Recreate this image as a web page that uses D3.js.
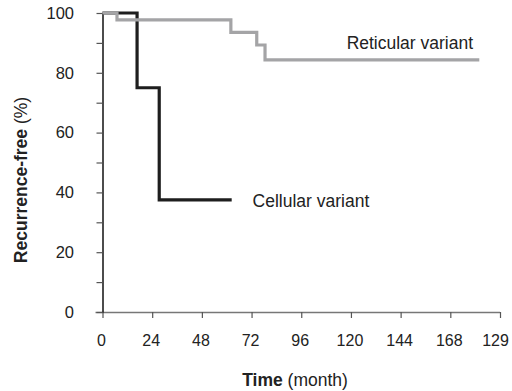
<!DOCTYPE html>
<html>
<head>
<meta charset="utf-8">
<script src="https://cdn.jsdelivr.net/npm/d3@7"></script>
<style>
  body { margin: 0; background: #fff; }
  text { font-family: "Liberation Sans", Arial, sans-serif; fill: #222; }
</style>
</head>
<body>
<div id="chart"></div>
<script>
var svgWidth = 512;
var svgHeight = 391;

// Kaplan-Meier steps (month, recurrence-free %)
var reticularTime = [0, 7, 62, 74.5, 78.5, 182];
var reticularValue = [100, 97.7, 93.5, 89.3, 84.3, 84.3];

var cellularTime = [0, 16.7, 27.4, 62.4];
var cellularValue = [100, 75, 37.5, 37.5];

var xTicks = [0, 24, 48, 72, 96, 120, 144, 168, 192];
var xTickLabels = ["0", "24", "48", "72", "96", "120", "144", "168", "129"];
var yTicks = [0, 20, 40, 60, 80, 100];
var yMinorTicks = [0, 10, 20, 30, 40, 50, 60, 70, 80, 90, 100];

var svg = d3.select("#chart")
  .append("svg")
  .attr("width", svgWidth)
  .attr("height", svgHeight);

var x = d3.scaleLinear().domain([0, 192]).range([102.5, 500]);
var y = d3.scaleLinear().domain([0, 100]).range([312, 13]);

// x axis
var xAxis = svg.append("g")
  .attr("transform", "translate(0,312)")
  .call(d3.axisBottom(x).tickValues(xTicks).tickSize(6).tickSizeOuter(0)
    .tickFormat((d, i) => xTickLabels[i]));
xAxis.select(".domain").attr("stroke", "#777").attr("stroke-width", 1.5)
  .attr("d", "M" + (x(0) - 7) + ",0.5H" + x(192));
xAxis.selectAll(".tick line").attr("stroke", "#555").attr("stroke-width", 1.2);
xAxis.selectAll(".tick text")
  .attr("y", 23)
  .attr("dx", (d, i) => i === xTicks.length - 1 ? -5 : -1.5)
  .attr("font-size", "16px")
  .attr("font-family", "Liberation Sans, Arial, sans-serif")
  .attr("fill", "#222");

// y axis
var yAxis = svg.append("g")
  .attr("transform", "translate(102.5,0)")
  .call(d3.axisLeft(y).tickValues(yMinorTicks).tickSize(6).tickSizeOuter(0)
    .tickFormat(d => yTicks.indexOf(d) >= 0 ? d : ""));
yAxis.select(".domain").attr("stroke", "#111").attr("stroke-width", 1.5);
yAxis.selectAll(".tick line").attr("stroke", "#555").attr("stroke-width", 1.2);
yAxis.selectAll(".tick text")
  .attr("x", -28.5)
  .attr("font-size", "16.5px")
  .attr("font-family", "Liberation Sans, Arial, sans-serif")
  .attr("fill", "#222");

// step curves
var line = d3.line()
  .x(d => x(d[0]))
  .y(d => y(d[1]))
  .curve(d3.curveStepAfter);

svg.append("path")
  .datum(d3.zip(cellularTime, cellularValue))
  .attr("d", line)
  .attr("fill", "none")
  .attr("stroke", "#1e1e1e")
  .attr("stroke-width", 3.2);

svg.append("path")
  .datum(d3.zip(reticularTime, reticularValue))
  .attr("d", line)
  .attr("fill", "none")
  .attr("stroke", "#a4a4a6")
  .attr("stroke-width", 3.2);

// curve labels
svg.append("text")
  .attr("x", x(179))
  .attr("y", y(88))
  .attr("text-anchor", "end")
  .attr("font-size", "17.5px")
  .text("Reticular variant");

svg.append("text")
  .attr("x", x(72.5))
  .attr("y", y(35))
  .attr("font-size", "17.5px")
  .text("Cellular variant");

// axis titles
var xTitle = svg.append("text")
  .attr("x", 295)
  .attr("y", 386)
  .attr("text-anchor", "middle")
  .attr("font-size", "17.5px");
xTitle.append("tspan").attr("font-weight", "bold").text("Time");
xTitle.append("tspan").text(" (month)");

var yTitle = svg.append("text")
  .attr("transform", "translate(27,180) rotate(-90)")
  .attr("text-anchor", "middle")
  .attr("font-size", "17.5px");
yTitle.append("tspan").attr("font-weight", "bold").text("Recurrence-free");
yTitle.append("tspan").text(" (%)");
</script>
</body>
</html>
